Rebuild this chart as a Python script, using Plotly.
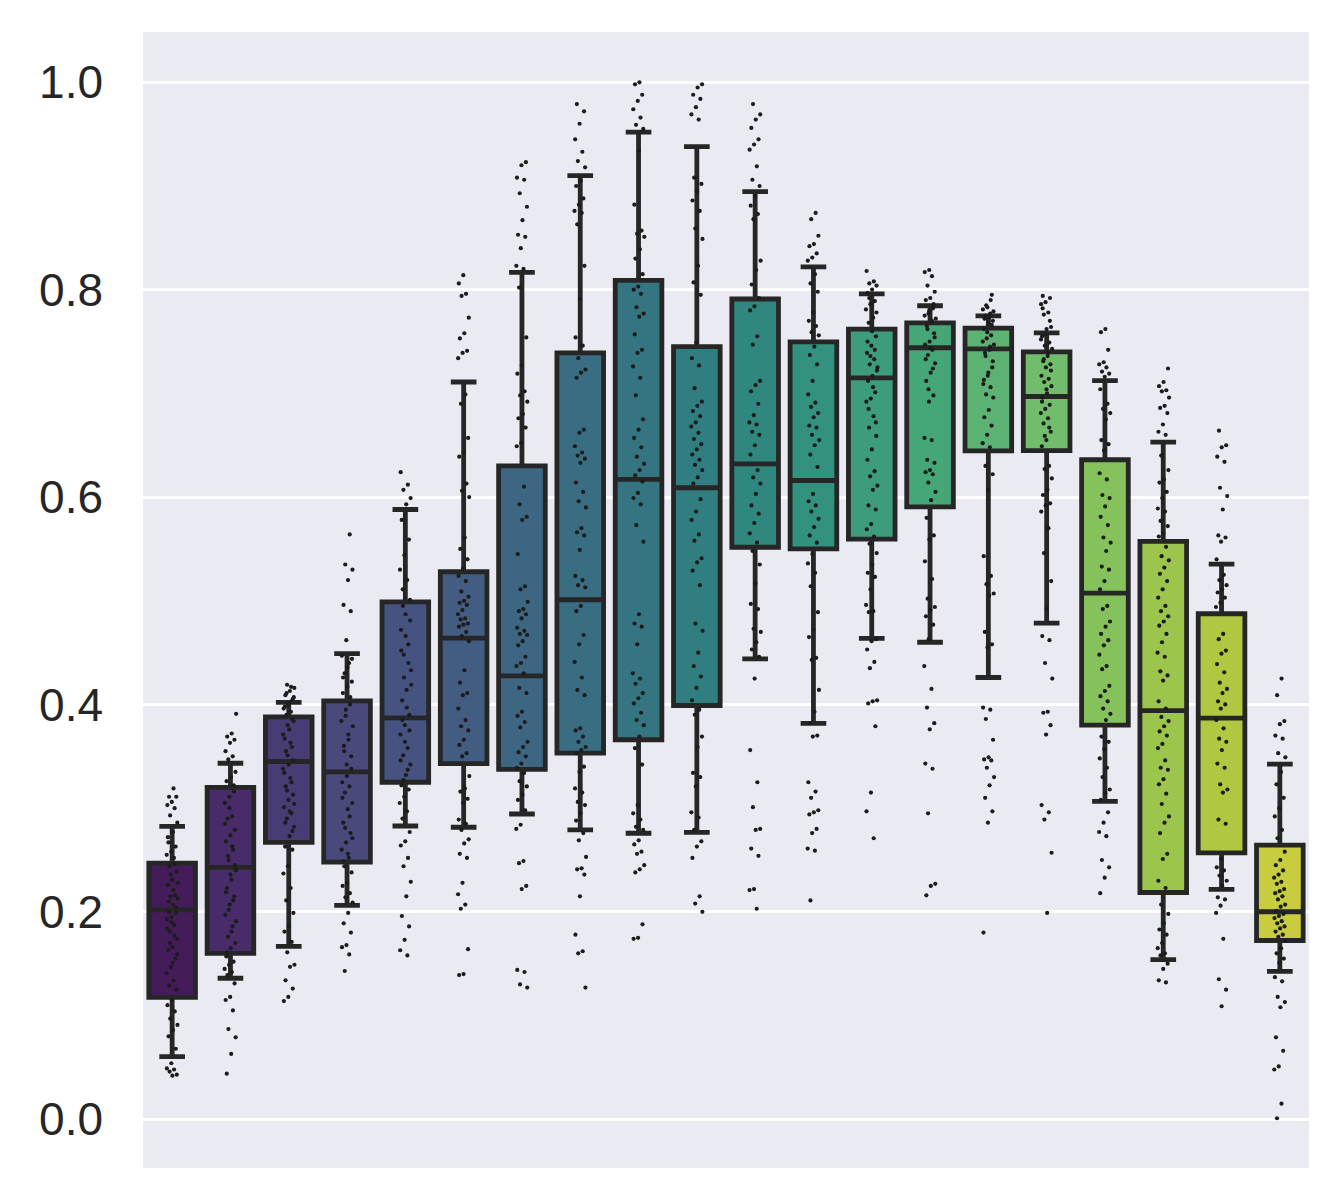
import colorsys
import plotly.graph_objects as go
from plotly.colors import sample_colorscale, unlabel_rgb
import plotly.express as px

# ---------------- data ----------------
group_index = list(range(20))

q1 = [0.1175, 0.160, 0.267, 0.248, 0.325, 0.343, 0.3375, 0.353, 0.366, 0.399,
      0.5516, 0.550, 0.5594, 0.5906, 0.6445, 0.6448, 0.380, 0.2187, 0.2569, 0.1724]
median = [0.202, 0.243, 0.345, 0.335, 0.387, 0.464, 0.4276, 0.501, 0.617, 0.609,
          0.632, 0.616, 0.715, 0.744, 0.743, 0.697, 0.5074, 0.394, 0.3868, 0.2001]
q3 = [0.247, 0.320, 0.388, 0.4035, 0.499, 0.528, 0.630, 0.739, 0.809, 0.745,
      0.791, 0.7497, 0.762, 0.768, 0.763, 0.740, 0.636, 0.5573, 0.4875, 0.2644]
whisker_low = [0.0605, 0.136, 0.1667, 0.2063, 0.2828, 0.2816, 0.2944, 0.279, 0.2758, 0.2767,
               0.444, 0.3817, 0.4637, 0.460, 0.426, 0.4785, 0.3065, 0.154, 0.2216, 0.1427]
whisker_high = [0.2825, 0.3433, 0.402, 0.449, 0.588, 0.711, 0.8166, 0.910, 0.952, 0.938,
                0.8945, 0.822, 0.796, 0.7845, 0.7748, 0.7584, 0.7124, 0.653, 0.5354, 0.3424]

pts_00 = [0.319, 0.311, 0.311, 0.306, 0.303, 0.300, 0.293, 0.286, 0.277, 0.267, 0.263, 0.258, 0.255,
          0.252, 0.244, 0.239, 0.231, 0.226, 0.216, 0.215, 0.213, 0.207, 0.200, 0.199, 0.195, 0.193,
          0.187, 0.181, 0.174, 0.166, 0.163, 0.155, 0.147, 0.141, 0.134, 0.129, 0.125, 0.115, 0.110,
          0.104, 0.097, 0.091, 0.086, 0.080, 0.068, 0.054, 0.049, 0.048, 0.046, 0.043, 0.042,
          0.272, 0.246, 0.236, 0.228, 0.221, 0.210, 0.204, 0.190, 0.184, 0.177, 0.170, 0.159, 0.151]
pts_01 = [0.391, 0.372, 0.369, 0.366, 0.363, 0.355, 0.350, 0.347, 0.335, 0.330, 0.326, 0.322, 0.311,
          0.305, 0.292, 0.290, 0.279, 0.274, 0.268, 0.260, 0.250, 0.240, 0.231, 0.223, 0.215, 0.207,
          0.197, 0.186, 0.176, 0.170, 0.165, 0.157, 0.152, 0.149, 0.145, 0.142, 0.139, 0.131, 0.118,
          0.115, 0.105, 0.087, 0.079, 0.063, 0.044,
          0.316, 0.300, 0.285, 0.263, 0.254, 0.245, 0.236, 0.219, 0.211, 0.202, 0.191, 0.181, 0.161]
pts_02 = [0.419, 0.416, 0.413, 0.409, 0.405, 0.400, 0.396, 0.393, 0.390, 0.384, 0.376, 0.367, 0.359,
          0.351, 0.338, 0.329, 0.321, 0.313, 0.308, 0.301, 0.295, 0.290, 0.282, 0.273, 0.263, 0.260,
          0.244, 0.237, 0.223, 0.211, 0.199, 0.186, 0.181, 0.171, 0.161, 0.149, 0.147, 0.134, 0.126,
          0.118, 0.114,
          0.417, 0.411, 0.407, 0.402, 0.398, 0.386, 0.380, 0.371, 0.363, 0.355, 0.346, 0.342, 0.334,
          0.325, 0.317, 0.304, 0.297, 0.286, 0.278]
pts_03 = [0.564, 0.535, 0.530, 0.520, 0.496, 0.490, 0.462, 0.447, 0.440, 0.430, 0.422, 0.417, 0.411,
          0.400, 0.389, 0.379, 0.371, 0.360, 0.350, 0.342, 0.325, 0.321, 0.315, 0.305, 0.299, 0.286,
          0.276, 0.267, 0.260, 0.252, 0.244, 0.238, 0.228, 0.225, 0.218, 0.214, 0.209, 0.199, 0.189,
          0.180, 0.168, 0.166, 0.159, 0.143,
          0.444, 0.436, 0.426, 0.407, 0.395, 0.384, 0.366, 0.355, 0.338, 0.331, 0.310, 0.292, 0.281,
          0.271, 0.256, 0.249]
pts_04 = [0.624, 0.612, 0.607, 0.599, 0.593, 0.578, 0.559, 0.544, 0.530, 0.520, 0.511, 0.501, 0.487,
          0.472, 0.458, 0.448, 0.433, 0.414, 0.404, 0.390, 0.380, 0.371, 0.358, 0.351, 0.342, 0.332,
          0.322, 0.318, 0.311, 0.305, 0.297, 0.290, 0.277, 0.268, 0.264, 0.252, 0.244, 0.229, 0.215,
          0.196, 0.186, 0.173, 0.163, 0.158,
          0.495, 0.481, 0.466, 0.452, 0.440, 0.426, 0.419, 0.397, 0.385, 0.375, 0.364, 0.346, 0.337,
          0.327]
pts_05 = [0.814, 0.806, 0.796, 0.794, 0.773, 0.758, 0.753, 0.741, 0.739, 0.734, 0.699, 0.690, 0.657,
          0.643, 0.639, 0.613, 0.606, 0.600, 0.561, 0.550, 0.540, 0.531, 0.524, 0.519, 0.509, 0.504,
          0.500, 0.498, 0.496, 0.491, 0.487, 0.483, 0.482, 0.478, 0.477, 0.475, 0.470, 0.466, 0.461,
          0.433, 0.421, 0.411, 0.409, 0.396, 0.385, 0.379, 0.375, 0.366, 0.361, 0.353, 0.350, 0.331,
          0.319, 0.316, 0.309, 0.305, 0.289, 0.285, 0.279, 0.270, 0.266, 0.256, 0.252, 0.228, 0.217,
          0.207, 0.203, 0.164, 0.140, 0.139]
pts_06 = [0.923, 0.920, 0.908, 0.906, 0.893, 0.880, 0.867, 0.853, 0.851, 0.840, 0.823, 0.820, 0.802,
          0.754, 0.727, 0.719, 0.702, 0.698, 0.692, 0.680, 0.676, 0.667, 0.652, 0.649, 0.610, 0.593,
          0.581, 0.578, 0.545, 0.514, 0.511, 0.499, 0.492, 0.490, 0.487, 0.483, 0.474, 0.471, 0.468,
          0.467, 0.461, 0.457, 0.446, 0.440, 0.437, 0.430, 0.416, 0.411, 0.393, 0.389, 0.383, 0.378,
          0.364, 0.359, 0.354, 0.350, 0.343, 0.339, 0.334, 0.326, 0.321, 0.313, 0.308, 0.298, 0.284,
          0.280, 0.249, 0.247, 0.225, 0.222, 0.144, 0.142, 0.130, 0.127]
pts_07 = [0.979, 0.972, 0.960, 0.945, 0.933, 0.924, 0.918, 0.905, 0.900, 0.888, 0.882, 0.876, 0.874,
          0.863, 0.823, 0.791, 0.754, 0.746, 0.734, 0.723, 0.720, 0.715, 0.665, 0.662, 0.649, 0.643,
          0.640, 0.637, 0.633, 0.614, 0.605, 0.596, 0.590, 0.570, 0.566, 0.563, 0.549, 0.524, 0.520,
          0.515, 0.513, 0.495, 0.490, 0.467, 0.458, 0.441, 0.426, 0.414, 0.409, 0.377, 0.375, 0.369,
          0.364, 0.359, 0.356, 0.353, 0.340, 0.335, 0.319, 0.315, 0.306, 0.303, 0.295, 0.288, 0.276,
          0.269, 0.253, 0.242, 0.241, 0.236, 0.215, 0.178, 0.162, 0.160, 0.127]
pts_08 = [1.000, 0.998, 0.988, 0.982, 0.974, 0.966, 0.959, 0.955, 0.934, 0.882, 0.857, 0.854, 0.851,
          0.839, 0.830, 0.815, 0.803, 0.800, 0.796, 0.783, 0.777, 0.774, 0.757, 0.742, 0.739, 0.726,
          0.715, 0.698, 0.675, 0.665, 0.657, 0.648, 0.639, 0.632, 0.626, 0.621, 0.615, 0.604, 0.599,
          0.593, 0.573, 0.557, 0.487, 0.478, 0.475, 0.458, 0.430, 0.425, 0.420, 0.411, 0.406, 0.401,
          0.392, 0.385, 0.380, 0.369, 0.358, 0.342, 0.303, 0.295, 0.289, 0.282, 0.279, 0.269, 0.265,
          0.258, 0.256, 0.245, 0.241, 0.238, 0.188, 0.175, 0.174]
pts_09 = [0.998, 0.995, 0.988, 0.984, 0.976, 0.969, 0.964, 0.908, 0.902, 0.895, 0.886, 0.876, 0.859,
          0.849, 0.823, 0.807, 0.795, 0.749, 0.734, 0.727, 0.705, 0.692, 0.688, 0.683, 0.678, 0.672,
          0.668, 0.662, 0.656, 0.651, 0.646, 0.641, 0.636, 0.631, 0.626, 0.619, 0.613, 0.598, 0.586,
          0.578, 0.564, 0.558, 0.541, 0.537, 0.529, 0.515, 0.478, 0.471, 0.450, 0.437, 0.427, 0.416,
          0.404, 0.395, 0.390, 0.369, 0.359, 0.334, 0.330, 0.321, 0.296, 0.291, 0.279, 0.268, 0.263,
          0.252, 0.215, 0.208, 0.200]
pts_10 = [0.979, 0.969, 0.964, 0.956, 0.945, 0.940, 0.935, 0.919, 0.906, 0.900, 0.890, 0.881, 0.873,
          0.868, 0.828, 0.819, 0.805, 0.792, 0.784, 0.780, 0.755, 0.747, 0.712, 0.708, 0.702, 0.690,
          0.679, 0.672, 0.670, 0.663, 0.660, 0.650, 0.641, 0.626, 0.619, 0.613, 0.603, 0.592, 0.584,
          0.575, 0.565, 0.556, 0.548, 0.535, 0.517, 0.497, 0.492, 0.473, 0.470, 0.460, 0.453, 0.446,
          0.425, 0.356, 0.325, 0.301, 0.280, 0.279, 0.261, 0.254, 0.222, 0.221, 0.203]
pts_11 = [0.874, 0.868, 0.852, 0.844, 0.842, 0.835, 0.831, 0.828, 0.815, 0.806, 0.798, 0.778, 0.770,
          0.765, 0.759, 0.756, 0.745, 0.737, 0.728, 0.712, 0.699, 0.691, 0.687, 0.681, 0.677, 0.669,
          0.667, 0.660, 0.655, 0.650, 0.641, 0.629, 0.603, 0.596, 0.592, 0.586, 0.579, 0.571, 0.563,
          0.556, 0.545, 0.536, 0.527, 0.514, 0.489, 0.472, 0.465, 0.445, 0.443, 0.414, 0.393, 0.382,
          0.370, 0.369, 0.325, 0.316, 0.310, 0.298, 0.296, 0.294, 0.280, 0.276, 0.261, 0.259, 0.211]
pts_12 = [0.818, 0.808, 0.806, 0.804, 0.800, 0.797, 0.789, 0.786, 0.781, 0.773, 0.768, 0.755, 0.746,
          0.739, 0.733, 0.728, 0.722, 0.717, 0.712, 0.701, 0.695, 0.692, 0.678, 0.667, 0.659, 0.646,
          0.636, 0.625, 0.620, 0.611, 0.607, 0.592, 0.588, 0.574, 0.569, 0.562, 0.555, 0.546, 0.535,
          0.527, 0.523, 0.511, 0.496, 0.490, 0.489, 0.463, 0.461, 0.453, 0.441, 0.435, 0.404, 0.403,
          0.401, 0.379, 0.315, 0.297, 0.271,
          0.792, 0.778, 0.760, 0.750, 0.742, 0.736, 0.725, 0.706, 0.685, 0.672]
pts_13 = [0.819, 0.817, 0.813, 0.804, 0.798, 0.792, 0.790, 0.782, 0.777, 0.772, 0.768, 0.765, 0.758,
          0.750, 0.747, 0.742, 0.737, 0.729, 0.720, 0.712, 0.698, 0.692, 0.657, 0.655, 0.636, 0.633,
          0.626, 0.624, 0.622, 0.614, 0.605, 0.597, 0.580, 0.563, 0.559, 0.538, 0.521, 0.502, 0.494,
          0.491, 0.485, 0.477, 0.463, 0.437, 0.415, 0.397, 0.382, 0.376, 0.343, 0.338, 0.295, 0.227,
          0.225, 0.216,
          0.786, 0.779, 0.775, 0.770, 0.762, 0.754, 0.744, 0.733, 0.724, 0.704]
pts_14 = [0.795, 0.783, 0.781, 0.777, 0.775, 0.770, 0.768, 0.762, 0.756, 0.753, 0.747, 0.742, 0.739,
          0.725, 0.717, 0.709, 0.706, 0.699, 0.696, 0.684, 0.677, 0.669, 0.660, 0.652, 0.648, 0.630,
          0.622, 0.607, 0.543, 0.524, 0.516, 0.507, 0.505, 0.470, 0.458, 0.455, 0.397, 0.395, 0.386,
          0.366, 0.349, 0.347, 0.346, 0.339, 0.330, 0.322, 0.310, 0.297, 0.286, 0.180,
          0.790, 0.785, 0.779, 0.773, 0.772, 0.766, 0.759, 0.750, 0.745, 0.736, 0.731, 0.720, 0.713]
pts_15 = [0.794, 0.792, 0.788, 0.786, 0.778, 0.776, 0.764, 0.762, 0.755, 0.749, 0.746, 0.743, 0.736,
          0.731, 0.728, 0.725, 0.717, 0.714, 0.711, 0.707, 0.700, 0.696, 0.689, 0.685, 0.681, 0.676,
          0.671, 0.663, 0.655, 0.649, 0.630, 0.627, 0.618, 0.607, 0.602, 0.594, 0.592, 0.586, 0.570,
          0.546, 0.519, 0.492, 0.466, 0.462, 0.440, 0.425, 0.393, 0.392, 0.380, 0.371, 0.303, 0.296,
          0.289, 0.257, 0.199,
          0.782, 0.770, 0.757, 0.752, 0.739, 0.733, 0.722, 0.704, 0.692, 0.667, 0.659]
pts_16 = [0.762, 0.759, 0.742, 0.730, 0.728, 0.725, 0.721, 0.719, 0.716, 0.704, 0.690, 0.685, 0.681,
          0.675, 0.655, 0.651, 0.645, 0.623, 0.617, 0.602, 0.599, 0.591, 0.581, 0.573, 0.561, 0.556,
          0.548, 0.533, 0.530, 0.519, 0.511, 0.495, 0.492, 0.480, 0.475, 0.468, 0.462, 0.457, 0.448,
          0.437, 0.434, 0.418, 0.413, 0.408, 0.403, 0.396, 0.391, 0.385, 0.369, 0.364, 0.357, 0.348,
          0.339, 0.330, 0.318, 0.314, 0.308, 0.296, 0.286, 0.277, 0.273, 0.250, 0.243, 0.233, 0.218]
pts_17 = [0.724, 0.711, 0.707, 0.703, 0.702, 0.696, 0.688, 0.686, 0.681, 0.670, 0.663, 0.660, 0.640,
          0.626, 0.617, 0.614, 0.605, 0.599, 0.589, 0.586, 0.577, 0.572, 0.565, 0.562, 0.552, 0.543,
          0.539, 0.532, 0.526, 0.519, 0.511, 0.503, 0.495, 0.490, 0.485, 0.480, 0.476, 0.468, 0.460,
          0.450, 0.446, 0.432, 0.428, 0.423, 0.403, 0.396, 0.388, 0.384, 0.379, 0.374, 0.370, 0.362,
          0.358, 0.346, 0.339, 0.337, 0.328, 0.323, 0.314, 0.304, 0.292, 0.286, 0.276, 0.256, 0.251,
          0.230, 0.223, 0.207, 0.198, 0.189, 0.183, 0.178, 0.170, 0.165, 0.160, 0.158, 0.150, 0.145,
          0.134, 0.132]
pts_18 = [0.664, 0.650, 0.648, 0.639, 0.634, 0.609, 0.601, 0.588, 0.563, 0.561, 0.557, 0.540, 0.525,
          0.520, 0.515, 0.511, 0.508, 0.503, 0.498, 0.494, 0.468, 0.463, 0.452, 0.449, 0.439, 0.431,
          0.421, 0.415, 0.411, 0.403, 0.400, 0.396, 0.385, 0.377, 0.367, 0.364, 0.356, 0.343, 0.339,
          0.323, 0.318, 0.315, 0.289, 0.285, 0.251, 0.243, 0.240, 0.235, 0.230, 0.225, 0.214, 0.212,
          0.206, 0.199, 0.174, 0.135, 0.125, 0.109]
pts_19 = [0.425, 0.409, 0.384, 0.381, 0.370, 0.367, 0.353, 0.349, 0.335, 0.323, 0.310, 0.300, 0.292,
          0.279, 0.271, 0.258, 0.250, 0.245, 0.240, 0.236, 0.233, 0.229, 0.227, 0.222, 0.220, 0.218,
          0.215, 0.212, 0.207, 0.205, 0.201, 0.198, 0.196, 0.194, 0.191, 0.189, 0.186, 0.184, 0.181,
          0.178, 0.176, 0.172, 0.165, 0.160, 0.155, 0.151, 0.137, 0.133, 0.118, 0.113, 0.108, 0.079,
          0.066, 0.051, 0.048, 0.015, 0.001]

strip_points = [pts_00, pts_01, pts_02, pts_03, pts_04, pts_05, pts_06, pts_07, pts_08, pts_09,
                pts_10, pts_11, pts_12, pts_13, pts_14, pts_15, pts_16, pts_17, pts_18, pts_19]

tick_values = [0.0, 0.2, 0.4, 0.6, 0.8, 1.0]

# ---------------- colours: viridis palette, desaturated like seaborn ----------------
n = len(group_index)
raw = sample_colorscale(px.colors.sequential.Viridis, [(i + 1) / (n + 1) for i in range(n)])


def desaturate(rgb_str, prop=0.75):
    r, g, b = [c / 255.0 for c in unlabel_rgb(rgb_str)]
    h, l, s = colorsys.rgb_to_hls(r, g, b)
    r, g, b = colorsys.hls_to_rgb(h, l, s * prop)
    return "rgb(%d,%d,%d)" % (round(r * 255), round(g * 255), round(b * 255))


colors = [desaturate(c) for c in raw]

EDGE = "#262626"

fig = go.Figure()
for i in group_index:
    fig.add_trace(go.Box(
        x=[i], q1=[q1[i]], median=[median[i]], q3=[q3[i]],
        lowerfence=[whisker_low[i]], upperfence=[whisker_high[i]],
        width=0.8, whiskerwidth=0.55, boxpoints=False,
        fillcolor=colors[i], line=dict(color=EDGE, width=4.8),
        showlegend=False, hoverinfo="skip",
    ))

# strip points with a fixed, deterministic horizontal jitter (position only)
xs, ys = [], []
for i, vals in zip(group_index, strip_points):
    for k, v in enumerate(vals):
        off = (((k + 1) * 0.6180339887 + i * 0.37) % 1.0 - 0.5) * 0.2
        xs.append(i + off)
        ys.append(v)

fig.add_trace(go.Scatter(
    x=xs, y=ys, mode="markers",
    marker=dict(size=4.2, color="#1c1c1c", line=dict(width=0)),
    showlegend=False, hoverinfo="skip",
))

fig.update_layout(
    width=1340, height=1200,
    margin=dict(l=143, r=31, t=32, b=32),
    paper_bgcolor="white", plot_bgcolor="#EAEAF2",
    boxmode="overlay", showlegend=False,
    xaxis=dict(range=[-0.5, 19.5], showticklabels=False, showgrid=False,
               zeroline=False, ticks="", showline=False),
    yaxis=dict(range=[-0.047, 1.0485], tickvals=tick_values, tickformat=".1f",
               showgrid=True, gridcolor="white", gridwidth=2.5, zeroline=False,
               ticks="", showline=False, ticklabelstandoff=39,
               tickfont=dict(family="Liberation Sans, Arial, sans-serif", size=46, color="#262626")),
)

fig.write_html("out.html")
